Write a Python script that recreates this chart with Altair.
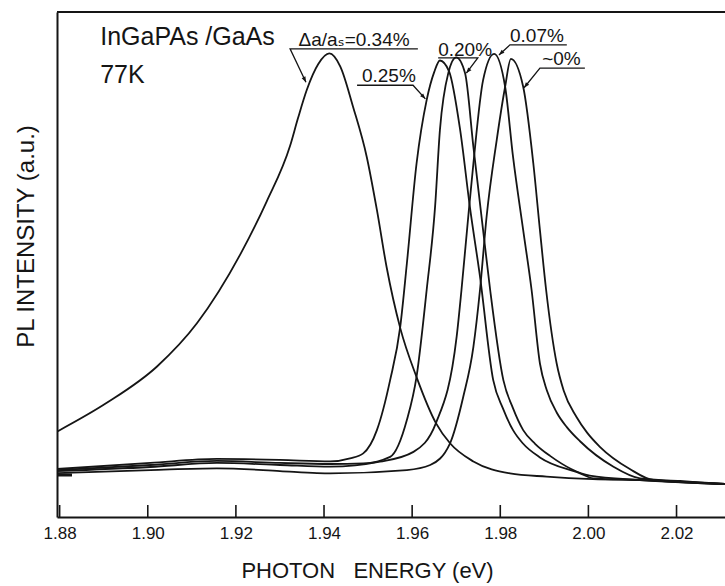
import altair as alt
import pandas as pd

# ---------------- data ----------------
series_labels = ["0.34%", "0.25%", "0.20%", "0.07%", "~0%"]

energy_034 = [1.8794, 1.8907, 1.9021, 1.9112, 1.9210, 1.9270, 1.9323, 1.9341, 1.9361, 1.9387,
              1.9412, 1.9437, 1.9466, 1.9497, 1.9520, 1.9542, 1.9573, 1.9610, 1.9654, 1.9686,
              1.9739, 1.9822, 1.9905, 2.0010, 2.0132, 2.0310]
intensity_034 = [0.169, 0.226, 0.298, 0.384, 0.520, 0.625, 0.735, 0.790, 0.846, 0.897,
                 0.918, 0.892, 0.812, 0.713, 0.608, 0.495, 0.374, 0.277, 0.186, 0.146,
                 0.110, 0.0865, 0.080, 0.075, 0.073, 0.0653]

energy_025 = [1.8794, 1.9006, 1.9157, 1.9300, 1.9414, 1.9459, 1.9489, 1.9520, 1.9550, 1.9573,
              1.9588, 1.9610, 1.9633, 1.9650, 1.9663, 1.9684, 1.9709, 1.9731, 1.9754, 1.9784,
              1.9806, 1.9829, 1.9851, 1.9890, 1.9981, 2.0011, 2.0117, 2.0310]
intensity_025 = [0.095, 0.107, 0.115, 0.113, 0.110, 0.116, 0.126, 0.172, 0.271, 0.377,
                 0.502, 0.700, 0.826, 0.881, 0.904, 0.882, 0.766, 0.614, 0.476, 0.271,
                 0.215, 0.172, 0.146, 0.118, 0.0865, 0.0766, 0.0733, 0.0653]

energy_020 = [1.8794, 1.9006, 1.9157, 1.9300, 1.9414, 1.9489, 1.9550, 1.9588, 1.9610, 1.9633,
              1.9652, 1.9663, 1.9682, 1.9700, 1.9720, 1.9739, 1.9761, 1.9777, 1.9807, 1.9829,
              1.9852, 1.9879, 1.9913, 2.0003, 2.0117, 2.0310]
intensity_020 = [0.093, 0.103, 0.111, 0.107, 0.105, 0.106, 0.119, 0.192, 0.278, 0.450,
                 0.614, 0.766, 0.879, 0.910, 0.879, 0.733, 0.568, 0.450, 0.271, 0.215,
                 0.172, 0.145, 0.121, 0.082, 0.0733, 0.0653]

energy_007 = [1.8794, 1.9006, 1.9157, 1.9300, 1.9414, 1.9527, 1.9603, 1.9654, 1.9701, 1.9712,
              1.9728, 1.9739, 1.9761, 1.9786, 1.9811, 1.9829, 1.9852, 1.9871, 1.9890, 1.9906,
              1.9928, 1.9951, 1.9981, 2.0056, 2.0117, 2.0208, 2.0310]
intensity_007 = [0.091, 0.099, 0.107, 0.103, 0.0996, 0.1095, 0.129, 0.186, 0.357, 0.450,
                 0.601, 0.700, 0.865, 0.917, 0.852, 0.713, 0.568, 0.450, 0.304, 0.250,
                 0.207, 0.178, 0.150, 0.100, 0.0766, 0.0713, 0.0653]

energy_000 = [1.8794, 1.9006, 1.9157, 1.9300, 1.9384, 1.9414, 1.9588, 1.9641, 1.9686, 1.9716,
              1.9739, 1.9754, 1.9769, 1.9792, 1.9811, 1.9824, 1.9852, 1.9875, 1.9890, 1.9904,
              1.9928, 1.9944, 1.9973, 1.9997, 2.0026, 2.0094, 2.0147, 2.0310]
intensity_000 = [0.087, 0.093, 0.0964, 0.091, 0.087, 0.0865, 0.093, 0.103, 0.146, 0.238,
                 0.337, 0.450, 0.595, 0.747, 0.852, 0.907, 0.852, 0.700, 0.568, 0.450,
                 0.304, 0.250, 0.198, 0.167, 0.139, 0.095, 0.0733, 0.0653]

tick_values = [1.88, 1.90, 1.92, 1.94, 1.96, 1.98, 2.00, 2.02]

# annotation texts (label, energy, intensity, font size)
note_labels = ["InGaPAs /GaAs", "77K", "\u0394a/a\u209b=0.34%", "0.25%", "0.20%", "0.07%", "~0%"]
note_energy = [1.8892, 1.8892, 1.9342, 1.9486, 1.9659, 1.9822, 1.9895]
note_intensity = [0.935, 0.859, 0.933, 0.861, 0.913, 0.941, 0.895]
note_size = [25, 25, 19, 19, 19, 19, 19]

# underline + leader polylines for each label
leader_group = ["0.34", "0.34", "0.34", "0.25", "0.25", "0.25", "0.20", "0.20", "0.20",
                "0.07", "0.07", "0.07", "0", "0", "0"]
leader_energy = [1.9613, 1.9323, 1.9359, 1.9475, 1.9602, 1.9630, 1.9659, 1.9749, 1.9723,
                 1.9951, 1.9822, 1.9797, 1.9992, 1.9890, 1.9854]
leader_intensity = [0.927, 0.927, 0.861, 0.855, 0.855, 0.828, 0.909, 0.909, 0.879,
                    0.935, 0.935, 0.915, 0.889, 0.889, 0.850]
arrow_energy = [1.9359, 1.9630, 1.9723, 1.9797, 1.9854]
arrow_intensity = [0.861, 0.828, 0.879, 0.915, 0.850]
arrow_angle = [334, 317, 39, 48, 39]

# ---------------- tables ----------------
all_e = [energy_034, energy_025, energy_020, energy_007, energy_000]
all_v = [intensity_034, intensity_025, intensity_020, intensity_007, intensity_000]
rows = []
for lab, es, vs in zip(series_labels, all_e, all_v):
    for e, v in zip(es, vs):
        rows.append({"series": lab, "energy": e, "intensity": v})
curves = pd.DataFrame(rows)

notes = pd.DataFrame({"label": note_labels, "energy": note_energy,
                      "intensity": note_intensity, "size": note_size})
leaders = pd.DataFrame({"group": leader_group, "energy": leader_energy,
                        "intensity": leader_intensity,
                        "idx": list(range(len(leader_group)))})
arrows = pd.DataFrame({"energy": arrow_energy, "intensity": arrow_intensity,
                       "angle": arrow_angle})
ticks = pd.DataFrame({"tick": tick_values})
one = pd.DataFrame({"k": [0]})

INK = "#151515"
FONT = "Liberation Sans, Arial, DejaVu Sans, sans-serif"
W, H = 668, 505

x_scale = alt.Scale(domain=[1.8794, 2.0310], nice=False, zero=False)
y_scale = alt.Scale(domain=[0, 1], nice=False, zero=False)

x_axis = alt.Axis(values=tick_values, format=".2f", ticks=False, grid=False,
                  labelFont=FONT, labelFontSize=17, labelColor=INK, labelPadding=8,
                  domainColor=INK, domainWidth=2,
                  title="PHOTON\u00a0\u00a0\u00a0ENERGY (eV)", titleFont=FONT,
                  titleFontSize=22, titleFontWeight="normal", titleColor=INK,
                  titleX=310, titleY=60, titleAlign="center", titleBaseline="alphabetic")
y_axis = alt.Axis(labels=False, ticks=False, grid=False, domainColor=INK, domainWidth=2,
                  title="PL INTENSITY (a.u.)", titleFont=FONT, titleFontSize=24,
                  titleFontWeight="normal", titleColor=INK, titleAngle=270,
                  titleX=-24, titleY=224, titleAlign="center", titleBaseline="alphabetic")

lines = alt.Chart(curves).mark_line(
    interpolate="monotone", color=INK, strokeWidth=1.8, clip=True
).encode(
    x=alt.X("energy:Q", scale=x_scale, axis=x_axis),
    y=alt.Y("intensity:Q", scale=y_scale, axis=y_axis),
    detail="series:N",
)

tick_marks = alt.Chart(ticks).mark_rule(color=INK, strokeWidth=1.6).encode(
    x=alt.X("tick:Q", scale=x_scale),
    y=alt.value(H - 12), y2=alt.value(H),
)

top_border = alt.Chart(one).mark_rule(color=INK, strokeWidth=2).encode(
    x=alt.value(0), x2=alt.value(W), y=alt.value(0)
)

zero_mark = alt.Chart(one).mark_rule(color=INK, strokeWidth=3).encode(
    x=alt.value(0), x2=alt.value(15), y=alt.value(463)
)

leader_lines = alt.Chart(leaders).mark_line(color=INK, strokeWidth=1.3).encode(
    x=alt.X("energy:Q", scale=x_scale),
    y=alt.Y("intensity:Q", scale=y_scale),
    detail="group:N",
    order="idx:Q",
)

ARROW = "M0,0 L-0.38,-1 L0.38,-1 Z"
arrow_heads = alt.Chart(arrows).mark_point(
    shape=ARROW, filled=True, size=120, color=INK, opacity=1, strokeWidth=0
).encode(
    x=alt.X("energy:Q", scale=x_scale),
    y=alt.Y("intensity:Q", scale=y_scale),
    angle=alt.Angle("angle:Q", scale=None),
)

texts = alt.Chart(notes).mark_text(
    align="left", baseline="alphabetic", font=FONT, color=INK
).encode(
    x=alt.X("energy:Q", scale=x_scale),
    y=alt.Y("intensity:Q", scale=y_scale),
    text="label:N",
    size=alt.Size("size:Q", scale=None),
)

chart = alt.layer(
    lines, tick_marks, top_border, zero_mark, leader_lines, arrow_heads, texts
).properties(
    width=W, height=H,
    autosize=alt.AutoSizeParams(type="none"),
    padding={"left": 57, "top": 12, "right": 0, "bottom": 69},
    background="white",
).configure_view(stroke=None)

chart.save("out.html", embed_options={"renderer": "svg", "actions": False})
